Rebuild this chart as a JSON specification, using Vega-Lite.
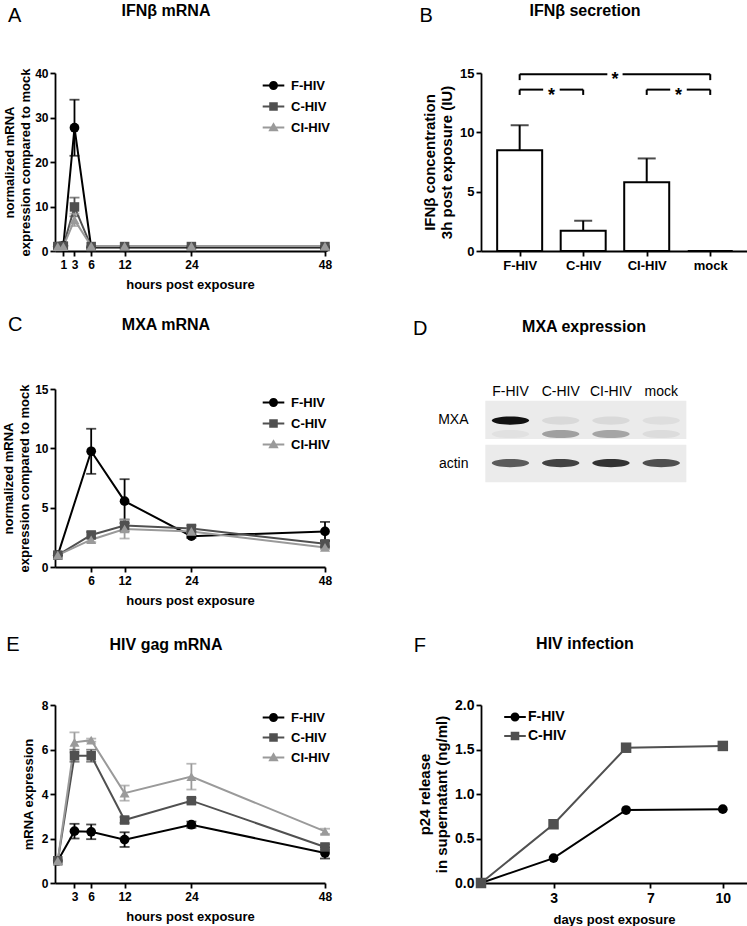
{
"$schema": "https://vega.github.io/schema/vega-lite/v6.json",
"background": "white",
"padding": {"left": 2, "top": 2, "right": 2, "bottom": 2},
"config": {
  "font": "Liberation Sans",
  "view": {"stroke": null},
  "axis": {"grid": false, "domainColor": "#000", "domainWidth": 1.8, "tickColor": "#000", "tickWidth": 1.8, "tickSize": 5, "labelColor": "#000", "labelFontSize": 12, "labelFontWeight": "bold", "labelPadding": 2, "labelFlush": false, "labelOverlap": false, "titleColor": "#000", "titleFontSize": 13, "titleFontWeight": "bold", "titlePadding": 6, "titleLineHeight": 16},
  "legend": {"labelFontSize": 13, "labelFontWeight": "bold", "labelColor": "#000", "symbolSize": 81, "symbolStrokeWidth": 0, "labelOffset": 11, "rowPadding": 7, "padding": 0, "offset": 0},
  "title": {"fontSize": 16, "fontWeight": "bold", "color": "#000", "anchor": "middle", "frame": "group"},
  "text": {"color": "#000"}
},
"datasets": {
  "a": [
    {"series": "F-HIV", "hour": 0, "value": 1},
    {"series": "F-HIV", "hour": 1, "value": 1.2},
    {"series": "F-HIV", "hour": 3, "value": 27.7, "lo": 21.4, "hi": 34.0},
    {"series": "F-HIV", "hour": 6, "value": 0.8},
    {"series": "F-HIV", "hour": 12, "value": 0.8},
    {"series": "F-HIV", "hour": 24, "value": 0.8},
    {"series": "F-HIV", "hour": 48, "value": 0.8},
    {"series": "C-HIV", "hour": 0, "value": 1},
    {"series": "C-HIV", "hour": 1, "value": 1.1},
    {"series": "C-HIV", "hour": 3, "value": 9.9, "lo": 7.8, "hi": 12.0},
    {"series": "C-HIV", "hour": 6, "value": 1.0},
    {"series": "C-HIV", "hour": 12, "value": 1.0},
    {"series": "C-HIV", "hour": 24, "value": 1.0},
    {"series": "C-HIV", "hour": 48, "value": 1.0},
    {"series": "CI-HIV", "hour": 0, "value": 1},
    {"series": "CI-HIV", "hour": 1, "value": 1.0},
    {"series": "CI-HIV", "hour": 3, "value": 7.0, "lo": 5.6, "hi": 8.4},
    {"series": "CI-HIV", "hour": 6, "value": 1.1},
    {"series": "CI-HIV", "hour": 12, "value": 1.1},
    {"series": "CI-HIV", "hour": 24, "value": 1.1},
    {"series": "CI-HIV", "hour": 48, "value": 1.1}
  ],
  "b": [
    {"group": "F-HIV", "idx": 1, "value": 8.5, "hi": 10.6},
    {"group": "C-HIV", "idx": 2, "value": 1.7, "hi": 2.55},
    {"group": "CI-HIV", "idx": 3, "value": 5.8, "hi": 7.8},
    {"group": "mock", "idx": 4, "value": 0}
  ],
  "bbr": [
    {"x": 1, "x2": 2.38, "y": 14.9, "y2": 14.9},
    {"x": 2.62, "x2": 4, "y": 14.9, "y2": 14.9},
    {"x": 1, "x2": 1.37, "y": 13.6, "y2": 13.6},
    {"x": 1.63, "x2": 2, "y": 13.6, "y2": 13.6},
    {"x": 3, "x2": 3.37, "y": 13.6, "y2": 13.6},
    {"x": 3.63, "x2": 4, "y": 13.6, "y2": 13.6},
    {"x": 1, "x2": 1, "y": 14.9, "y2": 14.4},
    {"x": 4, "x2": 4, "y": 14.9, "y2": 14.4},
    {"x": 1, "x2": 1, "y": 13.6, "y2": 13.15},
    {"x": 2, "x2": 2, "y": 13.6, "y2": 13.15},
    {"x": 3, "x2": 3, "y": 13.6, "y2": 13.15},
    {"x": 4, "x2": 4, "y": 13.6, "y2": 13.15}
  ],
  "bstar": [
    {"x": 2.5, "y": 14.9, "t": "*"},
    {"x": 1.5, "y": 13.6, "t": "*"},
    {"x": 3.5, "y": 13.6, "t": "*"}
  ],
  "c": [
    {"series": "F-HIV", "hour": 0, "value": 1},
    {"series": "F-HIV", "hour": 6, "value": 9.75, "lo": 7.85, "hi": 11.65},
    {"series": "F-HIV", "hour": 12, "value": 5.55, "lo": 3.7, "hi": 7.4},
    {"series": "F-HIV", "hour": 24, "value": 2.6, "lo": 2.45, "hi": 2.75},
    {"series": "F-HIV", "hour": 48, "value": 3.0, "lo": 2.2, "hi": 3.8},
    {"series": "C-HIV", "hour": 0, "value": 1},
    {"series": "C-HIV", "hour": 6, "value": 2.7, "lo": 2.45, "hi": 2.95},
    {"series": "C-HIV", "hour": 12, "value": 3.5, "lo": 3.0, "hi": 4.0},
    {"series": "C-HIV", "hour": 24, "value": 3.25, "lo": 3.0, "hi": 3.5},
    {"series": "C-HIV", "hour": 48, "value": 1.95, "lo": 1.7, "hi": 2.2},
    {"series": "CI-HIV", "hour": 0, "value": 1},
    {"series": "CI-HIV", "hour": 6, "value": 2.3, "lo": 2.1, "hi": 2.5},
    {"series": "CI-HIV", "hour": 12, "value": 3.2, "lo": 2.4, "hi": 4.0},
    {"series": "CI-HIV", "hour": 24, "value": 3.0, "lo": 2.8, "hi": 3.2},
    {"series": "CI-HIV", "hour": 48, "value": 1.65, "lo": 1.5, "hi": 1.8}
  ],
  "blots": [
    {"blot": "MXA", "top": 0, "bottom": 1},
    {"blot": "actin", "top": 1.15, "bottom": 2.13}
  ],
  "bands": [
    {"lane": 1, "blot": "MXA", "pos": 0.52, "intensity": 0.97},
    {"lane": 2, "blot": "MXA", "pos": 0.52, "intensity": 0.07},
    {"lane": 3, "blot": "MXA", "pos": 0.52, "intensity": 0.07},
    {"lane": 4, "blot": "MXA", "pos": 0.52, "intensity": 0.05},
    {"lane": 1, "blot": "MXA", "pos": 0.87, "intensity": 0.04},
    {"lane": 2, "blot": "MXA", "pos": 0.87, "intensity": 0.3},
    {"lane": 3, "blot": "MXA", "pos": 0.87, "intensity": 0.28},
    {"lane": 4, "blot": "MXA", "pos": 0.87, "intensity": 0.06},
    {"lane": 1, "blot": "actin", "pos": 1.63, "intensity": 0.6},
    {"lane": 2, "blot": "actin", "pos": 1.63, "intensity": 0.72},
    {"lane": 3, "blot": "actin", "pos": 1.63, "intensity": 0.8},
    {"lane": 4, "blot": "actin", "pos": 1.63, "intensity": 0.66}
  ],
  "lanes": [
    {"lane": 1, "name": "F-HIV"},
    {"lane": 2, "name": "C-HIV"},
    {"lane": 3, "name": "CI-HIV"},
    {"lane": 4, "name": "mock"}
  ],
  "e": [
    {"series": "F-HIV", "hour": 0, "value": 1},
    {"series": "F-HIV", "hour": 3, "value": 2.33, "lo": 2.0, "hi": 2.66},
    {"series": "F-HIV", "hour": 6, "value": 2.3, "lo": 1.97, "hi": 2.63},
    {"series": "F-HIV", "hour": 12, "value": 1.95, "lo": 1.62, "hi": 2.28},
    {"series": "F-HIV", "hour": 24, "value": 2.62, "lo": 2.48, "hi": 2.76},
    {"series": "F-HIV", "hour": 48, "value": 1.35, "lo": 1.1, "hi": 1.6},
    {"series": "C-HIV", "hour": 0, "value": 1},
    {"series": "C-HIV", "hour": 3, "value": 5.72, "lo": 5.45, "hi": 5.99},
    {"series": "C-HIV", "hour": 6, "value": 5.72, "lo": 5.45, "hi": 5.99},
    {"series": "C-HIV", "hour": 12, "value": 2.83, "lo": 2.7, "hi": 2.96},
    {"series": "C-HIV", "hour": 24, "value": 3.7, "lo": 3.58, "hi": 3.82},
    {"series": "C-HIV", "hour": 48, "value": 1.62, "lo": 1.5, "hi": 1.74},
    {"series": "CI-HIV", "hour": 0, "value": 1},
    {"series": "CI-HIV", "hour": 3, "value": 6.32, "lo": 5.87, "hi": 6.77},
    {"series": "CI-HIV", "hour": 6, "value": 6.42, "lo": 6.35, "hi": 6.49},
    {"series": "CI-HIV", "hour": 12, "value": 4.04, "lo": 3.7, "hi": 4.38},
    {"series": "CI-HIV", "hour": 24, "value": 4.78, "lo": 4.2, "hi": 5.36},
    {"series": "CI-HIV", "hour": 48, "value": 2.32, "lo": 2.2, "hi": 2.44}
  ],
  "f": [
    {"series": "F-HIV", "day": 0, "value": 0},
    {"series": "F-HIV", "day": 3, "value": 0.28},
    {"series": "F-HIV", "day": 6, "value": 0.82},
    {"series": "F-HIV", "day": 10, "value": 0.83},
    {"series": "C-HIV", "day": 0, "value": 0},
    {"series": "C-HIV", "day": 3, "value": 0.66},
    {"series": "C-HIV", "day": 6, "value": 1.52},
    {"series": "C-HIV", "day": 10, "value": 1.54}
  ]
},
"columns": 2,
"spacing": {"row": 138, "column": 156},
"bounds": "flush",
"align": "each",
"resolve": {"scale": {"color": "independent", "shape": "independent", "fill": "independent"}, "legend": {"color": "independent", "shape": "independent", "fill": "independent"}},
"concat": [
  {
    "width": 270, "height": 178,
    "title": {"text": "IFNβ mRNA", "dx": -24, "offset": -13},
    "data": {"name": "a"},
    "layer": [
      {"mark": {"type": "line", "strokeWidth": 2},
       "encoding": {
         "x": {"field": "hour", "type": "quantitative", "scale": {"domain": [-0.5, 48], "nice": false, "zero": false}, "axis": {"values": [1, 3, 6, 12, 24, 48], "title": "hours post exposure", "titlePadding": 8, "labelPadding": 3}},
         "y": {"field": "value", "type": "quantitative", "scale": {"domain": [0, 40], "nice": false}, "axis": {"values": [0, 10, 20, 30, 40], "title": ["normalized mRNA", "expression compared to mock"], "titlePadding": 2}},
         "color": {"field": "series", "type": "nominal", "scale": {"domain": ["CI-HIV", "C-HIV", "F-HIV"], "range": ["#9a9a9a", "#505050", "#000000"]}, "legend": null}}},
      {"transform": [{"filter": "isValid(datum.hi)"}], "mark": {"type": "rule", "strokeWidth": 1.8},
       "encoding": {"x": {"field": "hour", "type": "quantitative"}, "y": {"field": "lo", "type": "quantitative"}, "y2": {"field": "hi"}, "color": {"field": "series", "type": "nominal", "legend": null}}},
      {"transform": [{"filter": "isValid(datum.hi)"}], "mark": {"type": "tick", "orient": "horizontal", "size": 10, "thickness": 1.8},
       "encoding": {"x": {"field": "hour", "type": "quantitative"}, "y": {"field": "hi", "type": "quantitative"}, "color": {"field": "series", "type": "nominal", "legend": null}}},
      {"transform": [{"filter": "isValid(datum.hi)"}], "mark": {"type": "tick", "orient": "horizontal", "size": 10, "thickness": 1.8},
       "encoding": {"x": {"field": "hour", "type": "quantitative"}, "y": {"field": "lo", "type": "quantitative"}, "color": {"field": "series", "type": "nominal", "legend": null}}},
      {"transform": [{"filter": "datum.series == 'F-HIV'"}], "mark": {"type": "point", "shape": "circle", "filled": true, "size": 95, "color": "#000000", "opacity": 1},
       "encoding": {"x": {"field": "hour", "type": "quantitative"}, "y": {"field": "value", "type": "quantitative"}}},
      {"transform": [{"filter": "datum.series == 'C-HIV'"}], "mark": {"type": "point", "shape": "square", "filled": true, "size": 90, "color": "#505050", "opacity": 1},
       "encoding": {"x": {"field": "hour", "type": "quantitative"}, "y": {"field": "value", "type": "quantitative"}}},
      {"transform": [{"filter": "datum.series == 'CI-HIV'"}], "mark": {"type": "point", "shape": "triangle-up", "filled": true, "size": 100, "color": "#9a9a9a", "opacity": 1},
       "encoding": {"x": {"field": "hour", "type": "quantitative"}, "y": {"field": "value", "type": "quantitative"}}},
      {"transform": [{"filter": "false"}], "mark": {"type": "point", "filled": true, "opacity": 1},
       "encoding": {"x": {"field": "hour", "type": "quantitative"}, "y": {"field": "value", "type": "quantitative"},
         "fill": {"field": "series", "type": "nominal", "scale": {"domain": ["F-HIV", "C-HIV", "CI-HIV"], "range": ["#000000", "#505050", "#9a9a9a"]}, "legend": {"orient": "none", "legendX": 212, "legendY": 6, "title": null}},
         "shape": {"field": "series", "type": "nominal", "scale": {"domain": ["F-HIV", "C-HIV", "CI-HIV"], "range": ["M-2.4,-0.22H2.4V0.22H-2.4Z M-1,0A1,1 0 1,1 1,0A1,1 0 1,1 -1,0Z", "M-2.4,-0.22H2.4V0.22H-2.4Z M-0.95,-0.95H0.95V0.95H-0.95Z", "M-2.4,-0.22H2.4V0.22H-2.4Z M0,-1.15L1.15,0.85H-1.15Z"]}, "legend": {"orient": "none", "legendX": 212, "legendY": 6, "title": null}}}},
      {"data": {"values": [{"t": "A"}]}, "mark": {"type": "text", "fontSize": 20, "align": "left", "baseline": "alphabetic"},
       "encoding": {"x": {"datum": -8.94, "type": "quantitative"}, "y": {"datum": 51.5, "type": "quantitative"}, "text": {"field": "t"}}}
    ]
  },
  {
    "width": 266, "height": 178,
    "title": {"text": "IFNβ secretion", "dx": -29, "offset": -13},
    "layer": [
      {"data": {"name": "b"}, "mark": {"type": "bar", "size": 45, "fill": "white", "stroke": "#000", "strokeWidth": 2},
       "encoding": {
         "x": {"field": "idx", "type": "quantitative", "scale": {"domain": [0.47, 4.5], "nice": false, "zero": false}, "axis": {"values": [1, 2, 3, 4], "labelExpr": "['F-HIV','C-HIV','CI-HIV','mock'][datum.value - 1]", "title": null, "labelPadding": 3, "labelFontSize": 13}},
         "y": {"field": "value", "type": "quantitative", "scale": {"domain": [0, 15], "nice": false}, "axis": {"values": [0, 5, 10, 15], "title": ["IFNβ concentration", "3h post exposure (IU)"], "titlePadding": 5, "titleFontSize": 15, "titleLineHeight": 17, "labelFontSize": 13}}}},
      {"data": {"name": "b"}, "transform": [{"filter": "isValid(datum.hi)"}], "mark": {"type": "rule", "strokeWidth": 2, "color": "#000"},
       "encoding": {"x": {"field": "idx", "type": "quantitative"}, "y": {"field": "value", "type": "quantitative"}, "y2": {"field": "hi"}}},
      {"data": {"name": "b"}, "transform": [{"filter": "isValid(datum.hi)"}], "mark": {"type": "tick", "orient": "horizontal", "size": 18, "thickness": 2, "color": "#000"},
       "encoding": {"x": {"field": "idx", "type": "quantitative"}, "y": {"field": "hi", "type": "quantitative"}}},
      {"data": {"name": "bbr"}, "mark": {"type": "rule", "strokeWidth": 2, "color": "#000"},
       "encoding": {"x": {"field": "x", "type": "quantitative"}, "x2": {"field": "x2"}, "y": {"field": "y", "type": "quantitative"}, "y2": {"field": "y2"}}},
      {"data": {"name": "bstar"}, "mark": {"type": "text", "fontSize": 18, "fontWeight": "bold", "align": "center", "baseline": "alphabetic", "dy": 11},
       "encoding": {"x": {"field": "x", "type": "quantitative"}, "y": {"field": "y", "type": "quantitative"}, "text": {"field": "t"}}},
      {"data": {"values": [{"t": "B"}]}, "mark": {"type": "text", "fontSize": 20, "align": "left", "baseline": "alphabetic"},
       "encoding": {"x": {"datum": -0.575, "type": "quantitative"}, "y": {"datum": 19.32, "type": "quantitative"}, "text": {"field": "t"}}}
    ]
  },
  {
    "width": 270, "height": 178,
    "title": {"text": "MXA mRNA", "dx": -24, "offset": -18},
    "data": {"name": "c"},
    "layer": [
      {"mark": {"type": "line", "strokeWidth": 2},
       "encoding": {
         "x": {"field": "hour", "type": "quantitative", "scale": {"domain": [-0.5, 48], "nice": false, "zero": false}, "axis": {"values": [6, 12, 24, 48], "title": "hours post exposure", "titlePadding": 8, "labelPadding": 3}},
         "y": {"field": "value", "type": "quantitative", "scale": {"domain": [0, 15], "nice": false}, "axis": {"values": [0, 5, 10, 15], "title": ["normalized mRNA", "expression compared to mock"], "titlePadding": 3}},
         "color": {"field": "series", "type": "nominal", "scale": {"domain": ["CI-HIV", "C-HIV", "F-HIV"], "range": ["#9a9a9a", "#505050", "#000000"]}, "legend": null}}},
      {"transform": [{"filter": "isValid(datum.hi)"}], "mark": {"type": "rule", "strokeWidth": 1.8},
       "encoding": {"x": {"field": "hour", "type": "quantitative"}, "y": {"field": "lo", "type": "quantitative"}, "y2": {"field": "hi"}, "color": {"field": "series", "type": "nominal", "legend": null}}},
      {"transform": [{"filter": "isValid(datum.hi)"}], "mark": {"type": "tick", "orient": "horizontal", "size": 10, "thickness": 1.8},
       "encoding": {"x": {"field": "hour", "type": "quantitative"}, "y": {"field": "hi", "type": "quantitative"}, "color": {"field": "series", "type": "nominal", "legend": null}}},
      {"transform": [{"filter": "isValid(datum.hi)"}], "mark": {"type": "tick", "orient": "horizontal", "size": 10, "thickness": 1.8},
       "encoding": {"x": {"field": "hour", "type": "quantitative"}, "y": {"field": "lo", "type": "quantitative"}, "color": {"field": "series", "type": "nominal", "legend": null}}},
      {"transform": [{"filter": "datum.series == 'F-HIV'"}], "mark": {"type": "point", "shape": "circle", "filled": true, "size": 95, "color": "#000000", "opacity": 1},
       "encoding": {"x": {"field": "hour", "type": "quantitative"}, "y": {"field": "value", "type": "quantitative"}}},
      {"transform": [{"filter": "datum.series == 'C-HIV'"}], "mark": {"type": "point", "shape": "square", "filled": true, "size": 90, "color": "#505050", "opacity": 1},
       "encoding": {"x": {"field": "hour", "type": "quantitative"}, "y": {"field": "value", "type": "quantitative"}}},
      {"transform": [{"filter": "datum.series == 'CI-HIV'"}], "mark": {"type": "point", "shape": "triangle-up", "filled": true, "size": 100, "color": "#9a9a9a", "opacity": 1},
       "encoding": {"x": {"field": "hour", "type": "quantitative"}, "y": {"field": "value", "type": "quantitative"}}},
      {"transform": [{"filter": "false"}], "mark": {"type": "point", "filled": true, "opacity": 1},
       "encoding": {"x": {"field": "hour", "type": "quantitative"}, "y": {"field": "value", "type": "quantitative"},
         "fill": {"field": "series", "type": "nominal", "scale": {"domain": ["F-HIV", "C-HIV", "CI-HIV"], "range": ["#000000", "#505050", "#9a9a9a"]}, "legend": {"orient": "none", "legendX": 212, "legendY": 7, "title": null}},
         "shape": {"field": "series", "type": "nominal", "scale": {"domain": ["F-HIV", "C-HIV", "CI-HIV"], "range": ["M-2.4,-0.22H2.4V0.22H-2.4Z M-1,0A1,1 0 1,1 1,0A1,1 0 1,1 -1,0Z", "M-2.4,-0.22H2.4V0.22H-2.4Z M-0.95,-0.95H0.95V0.95H-0.95Z", "M-2.4,-0.22H2.4V0.22H-2.4Z M0,-1.15L1.15,0.85H-1.15Z"]}, "legend": {"orient": "none", "legendX": 212, "legendY": 7, "title": null}}}},
      {"data": {"values": [{"t": "C"}]}, "mark": {"type": "text", "fontSize": 20, "align": "left", "baseline": "alphabetic"},
       "encoding": {"x": {"datum": -8.94, "type": "quantitative"}, "y": {"datum": 19.91, "type": "quantitative"}, "text": {"field": "t"}}}
    ]
  },
  {
    "width": 266, "height": 178,
    "title": {"text": "MXA expression", "dx": -30, "offset": -16},
    "layer": [
      {"data": {"name": "blots"}, "mark": {"type": "rect", "color": "#ebebeb"},
       "encoding": {
         "x": {"datum": 0.5, "type": "quantitative", "scale": {"domain": [0.414, 5.707], "nice": false, "zero": false}, "axis": null},
         "x2": {"datum": 4.5},
         "y": {"field": "top", "type": "quantitative", "scale": {"domain": [-0.305, 4.342], "nice": false, "zero": false, "reverse": true}, "axis": {"values": [0.5, 1.64], "labelExpr": "datum.value < 1 ? 'MXA' : 'actin'", "domain": false, "ticks": false, "labelFontWeight": "normal", "labelFontSize": 14, "labelPadding": 13, "title": null}},
         "y2": {"field": "bottom"}}},
      {"data": {"name": "bands"}, "mark": {"type": "point", "filled": true, "shape": "M-1,0A1,0.22 0 1,1 1,0A1,0.22 0 1,1 -1,0Z", "size": 1400, "opacity": 1},
       "encoding": {
         "x": {"field": "lane", "type": "quantitative", "axis": null},
         "y": {"field": "pos", "type": "quantitative"},
         "color": {"field": "intensity", "type": "quantitative", "scale": {"domain": [0, 1], "range": ["#ebebeb", "#0a0a0a"]}, "legend": null}}},
      {"data": {"name": "lanes"}, "mark": {"type": "text", "fontSize": 14, "align": "center", "baseline": "middle"},
       "encoding": {"x": {"field": "lane", "type": "quantitative", "axis": null}, "y": {"datum": -0.22, "type": "quantitative"}, "text": {"field": "name"}}},
      {"data": {"values": [{"t": "D"}]}, "mark": {"type": "text", "fontSize": 20, "align": "left", "baseline": "alphabetic"},
       "encoding": {"x": {"datum": -0.939, "type": "quantitative", "axis": null}, "y": {"datum": -1.715, "type": "quantitative"}, "text": {"field": "t"}}}
    ]
  },
  {
    "width": 270, "height": 178,
    "title": {"text": "HIV gag mRNA", "dx": -24, "offset": -18},
    "data": {"name": "e"},
    "layer": [
      {"mark": {"type": "line", "strokeWidth": 2},
       "encoding": {
         "x": {"field": "hour", "type": "quantitative", "scale": {"domain": [-0.5, 48], "nice": false, "zero": false}, "axis": {"values": [3, 6, 12, 24, 48], "title": "hours post exposure", "titlePadding": 8, "labelPadding": 3}},
         "y": {"field": "value", "type": "quantitative", "scale": {"domain": [0, 8], "nice": false}, "axis": {"values": [0, 2, 4, 6, 8], "title": "mRNA expression", "titlePadding": 6}},
         "color": {"field": "series", "type": "nominal", "scale": {"domain": ["CI-HIV", "C-HIV", "F-HIV"], "range": ["#9a9a9a", "#505050", "#000000"]}, "legend": null}}},
      {"transform": [{"filter": "isValid(datum.hi)"}], "mark": {"type": "rule", "strokeWidth": 1.8},
       "encoding": {"x": {"field": "hour", "type": "quantitative"}, "y": {"field": "lo", "type": "quantitative"}, "y2": {"field": "hi"}, "color": {"field": "series", "type": "nominal", "legend": null}}},
      {"transform": [{"filter": "isValid(datum.hi)"}], "mark": {"type": "tick", "orient": "horizontal", "size": 10, "thickness": 1.8},
       "encoding": {"x": {"field": "hour", "type": "quantitative"}, "y": {"field": "hi", "type": "quantitative"}, "color": {"field": "series", "type": "nominal", "legend": null}}},
      {"transform": [{"filter": "isValid(datum.hi)"}], "mark": {"type": "tick", "orient": "horizontal", "size": 10, "thickness": 1.8},
       "encoding": {"x": {"field": "hour", "type": "quantitative"}, "y": {"field": "lo", "type": "quantitative"}, "color": {"field": "series", "type": "nominal", "legend": null}}},
      {"transform": [{"filter": "datum.series == 'F-HIV'"}], "mark": {"type": "point", "shape": "circle", "filled": true, "size": 95, "color": "#000000", "opacity": 1},
       "encoding": {"x": {"field": "hour", "type": "quantitative"}, "y": {"field": "value", "type": "quantitative"}}},
      {"transform": [{"filter": "datum.series == 'C-HIV'"}], "mark": {"type": "point", "shape": "square", "filled": true, "size": 90, "color": "#505050", "opacity": 1},
       "encoding": {"x": {"field": "hour", "type": "quantitative"}, "y": {"field": "value", "type": "quantitative"}}},
      {"transform": [{"filter": "datum.series == 'CI-HIV'"}], "mark": {"type": "point", "shape": "triangle-up", "filled": true, "size": 100, "color": "#9a9a9a", "opacity": 1},
       "encoding": {"x": {"field": "hour", "type": "quantitative"}, "y": {"field": "value", "type": "quantitative"}}},
      {"transform": [{"filter": "false"}], "mark": {"type": "point", "filled": true, "opacity": 1},
       "encoding": {"x": {"field": "hour", "type": "quantitative"}, "y": {"field": "value", "type": "quantitative"},
         "fill": {"field": "series", "type": "nominal", "scale": {"domain": ["F-HIV", "C-HIV", "CI-HIV"], "range": ["#000000", "#505050", "#9a9a9a"]}, "legend": {"orient": "none", "legendX": 212, "legendY": 6, "title": null, "rowPadding": 6}},
         "shape": {"field": "series", "type": "nominal", "scale": {"domain": ["F-HIV", "C-HIV", "CI-HIV"], "range": ["M-2.4,-0.22H2.4V0.22H-2.4Z M-1,0A1,1 0 1,1 1,0A1,1 0 1,1 -1,0Z", "M-2.4,-0.22H2.4V0.22H-2.4Z M-0.95,-0.95H0.95V0.95H-0.95Z", "M-2.4,-0.22H2.4V0.22H-2.4Z M0,-1.15L1.15,0.85H-1.15Z"]}, "legend": {"orient": "none", "legendX": 212, "legendY": 6, "title": null, "rowPadding": 6}}}},
      {"data": {"values": [{"t": "E"}]}, "mark": {"type": "text", "fontSize": 20, "align": "left", "baseline": "alphabetic"},
       "encoding": {"x": {"datum": -9.25, "type": "quantitative"}, "y": {"datum": 10.44, "type": "quantitative"}, "text": {"field": "t"}}}
    ]
  },
  {
    "width": 266, "height": 178,
    "title": {"text": "HIV infection", "dx": -29, "offset": -16},
    "data": {"name": "f"},
    "layer": [
      {"mark": {"type": "line", "strokeWidth": 2},
       "encoding": {
         "x": {"field": "day", "type": "quantitative", "scale": {"domain": [0, 11], "nice": false, "zero": false}, "axis": {"values": [3, 7, 10], "title": "days post exposure", "titlePadding": 8, "labelPadding": 3, "labelFontSize": 14}},
         "y": {"field": "value", "type": "quantitative", "scale": {"domain": [0, 2], "nice": false}, "axis": {"values": [0, 0.5, 1, 1.5, 2], "format": ".1f", "title": ["p24 release", "in supernatant (ng/ml)"], "titlePadding": 5, "titleFontSize": 15, "titleLineHeight": 17, "labelFontSize": 14}},
         "color": {"field": "series", "type": "nominal", "scale": {"domain": ["C-HIV", "F-HIV"], "range": ["#505050", "#000000"]}, "legend": null}}},
      {"transform": [{"filter": "datum.series == 'F-HIV'"}], "mark": {"type": "point", "shape": "circle", "filled": true, "size": 95, "color": "#000000", "opacity": 1},
       "encoding": {"x": {"field": "day", "type": "quantitative"}, "y": {"field": "value", "type": "quantitative"}}},
      {"transform": [{"filter": "datum.series == 'C-HIV'"}], "mark": {"type": "point", "shape": "square", "filled": true, "size": 110, "color": "#505050", "opacity": 1},
       "encoding": {"x": {"field": "day", "type": "quantitative"}, "y": {"field": "value", "type": "quantitative"}}},
      {"transform": [{"filter": "false"}], "mark": {"type": "point", "filled": true, "opacity": 1},
       "encoding": {"x": {"field": "day", "type": "quantitative"}, "y": {"field": "value", "type": "quantitative"},
         "fill": {"field": "series", "type": "nominal", "scale": {"domain": ["F-HIV", "C-HIV"], "range": ["#000000", "#505050"]}, "legend": {"orient": "none", "legendX": 27, "legendY": 5, "title": null, "labelFontSize": 14, "labelOffset": 6, "rowPadding": 5}},
         "shape": {"field": "series", "type": "nominal", "scale": {"domain": ["F-HIV", "C-HIV"], "range": ["M-2.4,-0.22H2.4V0.22H-2.4Z M-1,0A1,1 0 1,1 1,0A1,1 0 1,1 -1,0Z", "M-2.4,-0.22H2.4V0.22H-2.4Z M-0.95,-0.95H0.95V0.95H-0.95Z"]}, "legend": {"orient": "none", "legendX": 27, "legendY": 5, "title": null, "labelFontSize": 14, "labelOffset": 6, "rowPadding": 5}}}},
      {"data": {"values": [{"t": "F"}]}, "mark": {"type": "text", "fontSize": 20, "align": "left", "baseline": "alphabetic"},
       "encoding": {"x": {"datum": -2.78, "type": "quantitative"}, "y": {"datum": 2.59, "type": "quantitative"}, "text": {"field": "t"}}}
    ]
  }
]
}
